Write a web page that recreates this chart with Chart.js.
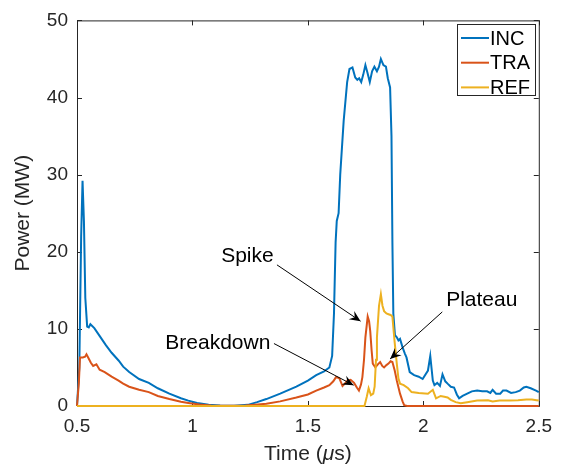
<!DOCTYPE html>
<html>
<head>
<meta charset="utf-8">
<script src="https://cdn.jsdelivr.net/npm/chart.js@4.4.1/dist/chart.umd.min.js"></script>
<style>
  html, body { margin: 0; padding: 0; background: #fff; }
  canvas { display: block; }
</style>
</head>
<body>
<canvas id="powerChart" width="561" height="466"></canvas>
<script>
// --- data (time in µs, power in MW) ---
const incTime = [0.500, 0.510, 0.518, 0.524, 0.530, 0.536, 0.544, 0.551, 0.558, 0.575, 0.600, 0.625, 0.650, 0.680, 0.700, 0.726, 0.769, 0.811, 0.850, 0.900, 0.950, 0.982, 1.020, 1.070, 1.120, 1.180, 1.240, 1.280, 1.320, 1.380, 1.450, 1.500, 1.536, 1.570, 1.593, 1.605, 1.613, 1.620, 1.625, 1.633, 1.640, 1.655, 1.670, 1.680, 1.693, 1.705, 1.714, 1.722, 1.731, 1.740, 1.749, 1.758, 1.768, 1.778, 1.788, 1.799, 1.808, 1.816, 1.827, 1.838, 1.846, 1.856, 1.862, 1.866, 1.870, 1.877, 1.885, 1.892, 1.899, 1.910, 1.920, 1.927, 1.941, 1.960, 1.980, 1.997, 2.020, 2.030, 2.041, 2.048, 2.060, 2.072, 2.083, 2.095, 2.105, 2.119, 2.133, 2.145, 2.155, 2.170, 2.190, 2.210, 2.233, 2.255, 2.276, 2.290, 2.300, 2.315, 2.333, 2.345, 2.360, 2.380, 2.400, 2.418, 2.435, 2.446, 2.465, 2.488, 2.500];
const incPower = [0, 5, 22, 29.2, 24, 14, 10.3, 10.2, 10.6, 10.1, 9.0, 7.9, 6.9, 5.9, 5.1, 4.4, 3.5, 3.0, 2.3, 1.6, 1.0, 0.7, 0.4, 0.15, 0.05, 0.02, 0.15, 0.5, 0.9, 1.6, 2.5, 3.3, 4.0, 4.5, 5.0, 6.5, 12, 21.2, 24.0, 25, 30, 37, 42, 43.7, 43.9, 42.6, 42.3, 42.5, 42.0, 43.0, 44.2, 43.2, 42.0, 43.4, 44.0, 43.4, 44.0, 45.0, 44.2, 44.0, 42.5, 41.3, 35, 21.2, 12, 9.2, 8.9, 8.5, 8.7, 7.6, 6.8, 6.3, 4.4, 4.0, 3.8, 3.5, 4.6, 6.5, 3.3, 2.7, 3.0, 2.6, 4.1, 3.2, 2.9, 2.5, 2.4, 1.5, 1.0, 1.3, 1.6, 1.9, 2.0, 1.9, 1.9, 1.7, 2.1, 1.6, 1.6, 2.0, 2.0, 1.7, 1.8, 2.0, 2.4, 2.5, 2.3, 2.0, 1.8];

const traTime = [0.500, 0.508, 0.513, 0.525, 0.535, 0.541, 0.550, 0.560, 0.570, 0.584, 0.598, 0.620, 0.650, 0.680, 0.700, 0.726, 0.769, 0.811, 0.850, 0.900, 0.950, 0.982, 1.030, 1.080, 1.150, 1.230, 1.270, 1.320, 1.380, 1.450, 1.500, 1.536, 1.570, 1.593, 1.610, 1.622, 1.636, 1.650, 1.660, 1.671, 1.685, 1.700, 1.712, 1.721, 1.730, 1.736, 1.743, 1.749, 1.759, 1.765, 1.770, 1.776, 1.781, 1.792, 1.803, 1.813, 1.822, 1.830, 1.840, 1.849, 1.858, 1.866, 1.876, 1.885, 1.899, 1.910, 1.917, 1.930, 2.500];
const traPower = [0, 3, 6.3, 6.3, 6.4, 6.7, 6.2, 5.6, 5.2, 5.4, 4.7, 4.4, 3.8, 3.3, 2.9, 2.5, 2.1, 1.8, 1.3, 0.9, 0.55, 0.4, 0.2, 0.08, 0.02, 0.05, 0.15, 0.3, 0.6, 1.1, 1.5, 2.0, 2.4, 2.7, 3.2, 3.75, 3.6, 2.6, 2.9, 3.3, 3.4, 3.0, 2.4, 2.0, 2.8, 3.75, 6.0, 8.9, 11.6, 11.0, 9.7, 7.2, 5.5, 5.0, 5.4, 5.7, 5.2, 5.0, 5.3, 5.5, 5.8, 5.7, 4.6, 3.3, 1.6, 0.6, 0.1, 0, 0];

const refTime = [0.500, 1.745, 1.755, 1.763, 1.773, 1.783, 1.789, 1.795, 1.799, 1.808, 1.816, 1.823, 1.830, 1.840, 1.849, 1.858, 1.866, 1.875, 1.885, 1.892, 1.899, 1.915, 1.934, 1.949, 1.980, 2.020, 2.041, 2.055, 2.075, 2.091, 2.105, 2.119, 2.140, 2.162, 2.190, 2.233, 2.280, 2.300, 2.330, 2.375, 2.410, 2.446, 2.470, 2.490, 2.500];
const refPower = [0, 0, 1.2, 2.3, 1.4, 1.6, 2.5, 6.0, 8.9, 13.0, 14.5, 13.0, 12.3, 12.0, 11.9, 11.8, 11.6, 8.5, 5.5, 3.6, 2.9, 2.7, 2.3, 1.8, 1.7, 1.6, 2.1, 1.0, 1.3, 1.2, 1.1, 0.8, 0.5, 0.35, 0.5, 0.7, 0.75, 0.6, 0.7, 0.7, 0.75, 0.85, 0.85, 0.75, 0.7];

const xTicks = [0.5, 1, 1.5, 2, 2.5];
const yTicks = [0, 10, 20, 30, 40, 50];

const seriesNames = ['INC', 'TRA', 'REF'];
const seriesColors = ['#0072BD', '#D95319', '#EDB120'];

// text callouts, anchored in data units: [label, textX, textY, fromX, fromY, toX, toY]
const callouts = [
  ['Spike', 1.238, 19.4, 1.366, 18.3, 1.728, 11.0],
  ['Breakdown', 1.110, 8.1, 1.353, 8.1, 1.698, 2.7],
  ['Plateau', 2.253, 13.7, 2.082, 12.2, 1.856, 6.1]
];

const FONT = "'Liberation Sans', Arial, Helvetica, sans-serif";
const AXIS_COLOR = '#262626';

const toPoints = (xs, ys) => xs.map((x, i) => ({ x: x, y: ys[i] }));

// box around the plot, with inward ticks on all four sides
const axesBox = {
  id: 'axesBox',
  beforeDatasetsDraw(chart) {
    const { ctx, chartArea: a, scales: { x, y } } = chart;
    const len = 5;
    ctx.save();
    ctx.strokeStyle = AXIS_COLOR;
    ctx.lineWidth = 1;
    ctx.strokeRect(a.left + 0.5, a.top + 0.5, a.right - a.left, a.bottom - a.top);
    ctx.beginPath();
    xTicks.forEach(v => {
      const px = Math.round(x.getPixelForValue(v)) + 0.5;
      ctx.moveTo(px, a.bottom); ctx.lineTo(px, a.bottom - len);
      ctx.moveTo(px, a.top); ctx.lineTo(px, a.top + len);
    });
    yTicks.forEach(v => {
      const py = Math.round(y.getPixelForValue(v)) + 0.5;
      ctx.moveTo(a.left, py); ctx.lineTo(a.left + len, py);
      ctx.moveTo(a.right, py); ctx.lineTo(a.right - len, py);
    });
    ctx.stroke();
    ctx.restore();
  }
};

function arrowHead(ctx, x0, y0, x1, y1) {
  const ang = Math.atan2(y1 - y0, x1 - x0);
  const L = 11, W = 5, notch = 7;
  ctx.save();
  ctx.translate(x1, y1);
  ctx.rotate(ang);
  ctx.beginPath();
  ctx.moveTo(0, 0);
  ctx.lineTo(-L, -W);
  ctx.lineTo(-notch, 0);
  ctx.lineTo(-L, W);
  ctx.closePath();
  ctx.fill();
  ctx.restore();
}

// callouts, legend and the x label with italic mu
const overlay = {
  id: 'overlay',
  afterDatasetsDraw(chart) {
    const { ctx, chartArea: a, scales: { x, y } } = chart;
    ctx.save();
    ctx.fillStyle = '#000';
    ctx.strokeStyle = '#000';
    ctx.lineWidth = 1;
    ctx.font = '21px ' + FONT;
    ctx.textAlign = 'center';
    ctx.textBaseline = 'middle';
    callouts.forEach(([txt, tx, ty, fx, fy, ex, ey]) => {
      ctx.fillText(txt, x.getPixelForValue(tx), y.getPixelForValue(ty));
      const x0 = x.getPixelForValue(fx), y0 = y.getPixelForValue(fy);
      const x1 = x.getPixelForValue(ex), y1 = y.getPixelForValue(ey);
      ctx.beginPath();
      ctx.moveTo(x0, y0); ctx.lineTo(x1, y1);
      ctx.stroke();
      arrowHead(ctx, x0, y0, x1, y1);
    });

    // legend
    const lx = 457, ly = 24, lw = 78, lh = 71;
    ctx.fillStyle = '#fff';
    ctx.fillRect(lx, ly, lw, lh);
    ctx.strokeStyle = AXIS_COLOR;
    ctx.strokeRect(lx + 0.5, ly + 0.5, lw, lh);
    ctx.font = '20px ' + FONT;
    ctx.textAlign = 'left';
    seriesNames.forEach((name, i) => {
      const cy = ly + 14 + i * 24.7;
      ctx.strokeStyle = seriesColors[i];
      ctx.lineWidth = 2;
      ctx.beginPath();
      ctx.moveTo(lx + 4, cy); ctx.lineTo(lx + 32, cy);
      ctx.stroke();
      ctx.fillStyle = '#000';
      ctx.fillText(name, lx + 33, cy + 1);
    });

    // x axis title
    const parts = [['Time (', 'normal'], ['\u03bc', 'italic'], ['s)', 'normal']];
    let total = 0;
    parts.forEach(p => { ctx.font = p[1] + ' 21px ' + FONT; total += ctx.measureText(p[0]).width; });
    let cx = (a.left + a.right) / 2 - total / 2;
    ctx.fillStyle = AXIS_COLOR;
    parts.forEach(p => {
      ctx.font = p[1] + ' 21px ' + FONT;
      ctx.fillText(p[0], cx, 454);
      cx += ctx.measureText(p[0]).width;
    });
    ctx.restore();
  }
};

const ctx = document.getElementById('powerChart').getContext('2d');
new Chart(ctx, {
  type: 'line',
  data: {
    datasets: [
      { label: seriesNames[0], data: toPoints(incTime, incPower), borderColor: seriesColors[0], order: 3 },
      { label: seriesNames[1], data: toPoints(traTime, traPower), borderColor: seriesColors[1], order: 2 },
      { label: seriesNames[2], data: toPoints(refTime, refPower), borderColor: seriesColors[2], order: 1 }
    ].map(d => Object.assign(d, { borderWidth: 2, pointRadius: 0, tension: 0, fill: false, clip: false }))
  },
  options: {
    responsive: false,
    animation: false,
    layout: { padding: { left: 0, top: 15, right: 15, bottom: 0 } },
    plugins: { legend: { display: false }, tooltip: { enabled: false } },
    scales: {
      x: {
        type: 'linear', min: 0.5, max: 2.5,
        grid: { display: false, drawTicks: false },
        border: { display: false },
        ticks: { stepSize: 0.5, padding: 9, color: AXIS_COLOR, font: { family: FONT, size: 19 }, callback: v => String(v), maxRotation: 0 },
        afterFit: s => { s.height = 60; }
      },
      y: {
        min: 0, max: 50,
        grid: { display: false, drawTicks: false },
        border: { display: false },
        ticks: { stepSize: 10, padding: 9, color: AXIS_COLOR, font: { family: FONT, size: 19 } },
        title: { display: true, text: 'Power (MW)', color: AXIS_COLOR, font: { family: FONT, size: 21 }, padding: { top: 11, bottom: 0 } },
        afterFit: s => { s.width = 77; }
      }
    }
  },
  plugins: [axesBox, overlay]
});
</script>
</body>
</html>
